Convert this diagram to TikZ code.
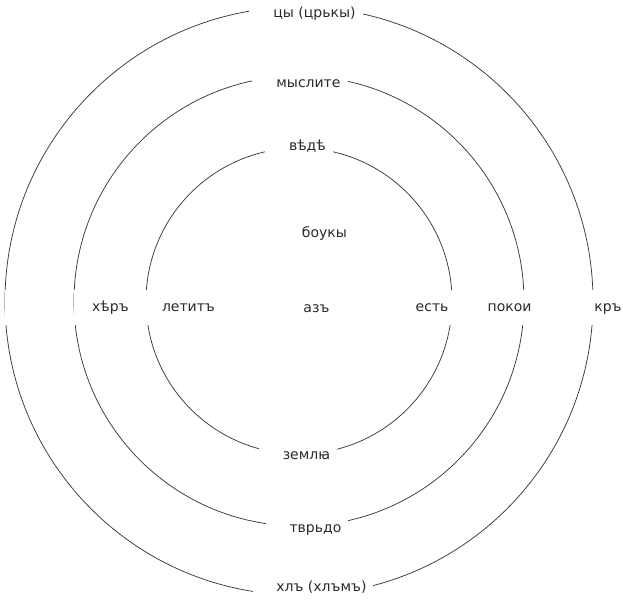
\documentclass[tikz,border=0pt]{standalone}
\usepackage{fontspec}
\setmainfont{DejaVu Sans}
\newfontfamily\fA{DejaVu Sans}
\newfontfamily\fB{Noto Sans}
\newfontfamily\fC{DejaVu Serif}
\newfontfamily\fD{Liberation Serif}
\newcommand\pick[2]{{\fA\iffontchar\font"#1 \else\fB\iffontchar\font"#1 \else\fC\iffontchar\font"#1 \else\fD\fi\fi\fi #2}}
\definecolor{ink}{HTML}{2A2A2A}
\definecolor{linec}{HTML}{3A3A3A}
\tikzset{
  ring/.style={draw=linec, line width=0.75pt},
  lab/.style={font=\fontsize{14}{16}\selectfont, text=ink, fill=white, inner xsep=7pt, inner ysep=3pt, text height=10pt, text depth=3pt, anchor=base},
  side/.style={lab, minimum height=35pt, inner xsep=3pt}
}
\begin{document}
\begin{tikzpicture}[x=1pt,y=-1pt]
\useasboundingbox (0,0) rectangle (623,603);
\coordinate (c) at (299,301);
\draw[ring] (c) circle[radius=153pt];
\draw[ring] (c) circle[radius=225pt];
\draw[ring] (c) circle[radius=294pt];
% top / bottom
\node[lab] (tsy) at (306,17) {\pick{2C4C}{^^^^2c4c}\hspace{6pt}цы (црькы)};
\node[lab] (mysl) at (300,87) {\pick{2C3F}{^^^^2c3f}\hspace{6pt}мыслите};
\node[lab] (vede) at (299,150) {\pick{2C32}{^^^^2c32}\hspace{6pt}вѣдѣ};
\node[lab,fill=none] (buky) at (314,237) {\pick{2C31}{^^^^2c31}\hspace{10pt}боукы};
\node[lab,fill=none] (az) at (308,312) {\pick{2C30}{^^^^2c30}\hspace{6pt}азъ};
\node[lab] (zem) at (298,459) {\pick{2C38}{^^^^2c38}\hspace{6pt}земл\pick{A657}{^^^^a657}};
\node[lab] (tvr) at (307,532) {\pick{2C45}{^^^^2c45}\hspace{6pt}тврьдо};
\node[lab] (khl) at (313,591) {\pick{2C52}{^^^^2c52}\hspace{6pt}хлъ (хлъмъ)};
% left / right
\node[side] (djerv) at (13,311) {\pick{2C3C}{^^^^2c3c}};
\node[side] (kher) at (103,311) {\pick{2C48}{^^^^2c48}\hspace{4pt}хѣръ};
\node[side] (ljudi) at (181,311) {\pick{2C3E}{^^^^2c3e}\hspace{4pt}летитъ};
\node[side] (est) at (440,311) {есть\hspace{5pt}\pick{2C35}{^^^^2c35}};
\node[side] (pokoi) at (517,311) {покои\hspace{4pt}\pick{2C42}{^^^^2c42}};
\node[side] (kako) at (600,311) {\pick{2C3D}{^^^^2c3d}\hspace{5pt}кръ};
\end{tikzpicture}
\end{document}
